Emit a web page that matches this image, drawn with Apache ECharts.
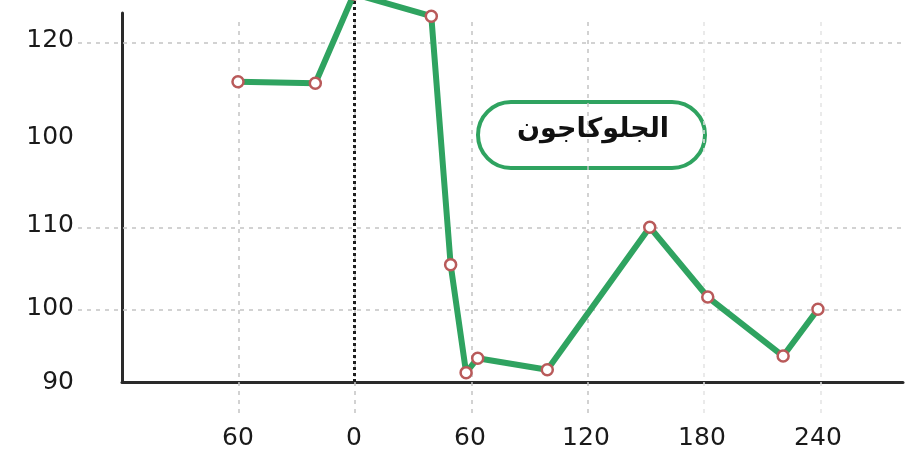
<!DOCTYPE html>
<html>
<head>
<meta charset="utf-8">
<script src="https://cdn.jsdelivr.net/npm/echarts@6/dist/echarts.min.js"></script>
<style>
html,body{margin:0;padding:0;background:#fff;}
#c{width:906px;height:457px;}
</style>
</head>
<body>
<div id="c"></div>
<script>
// ---- data (x in minutes, y in the chart's own vertical units) ----
const xValues = [-60, -20, 0, 40, 50, 58, 64, 100, 153, 183, 222, 240];
const yValues = [131.7, 131.5, 143.9, 140.8, 106.3, 91.3, 93.3, 91.7, 111.5, 101.8, 93.6, 100.1];
const xTickValues = [-60, 0, 60, 120, 180, 240];
const xTickLabels = ['60', '0', '60', '120', '180', '240'];
const yTickValues = [90, 100.2, 111.8, 123.9, 137.4];
const yTickLabels = ['90', '100', '110', '100', '120'];
const yGridValues = [100, 111.4, 137.1];
const annotationText = 'الجلوكاجون';

// ---- layout constants ----
const X_MIN = -120, X_MAX = 284;
const Y_MIN = 90;
const PX_X = 784 / (X_MAX - X_MIN);
const PX_Y = 7.2;

const green = '#2fa360';
const font = 'DejaVu Sans';

const chart = echarts.init(document.getElementById('c'), null, {renderer: 'canvas'});

const labelFor = (vals, labs) => (v) => {
  for (let i = 0; i < vals.length; i++) if (Math.abs(vals[i] - v) < 0.01) return labs[i];
  return '';
};

const gridLineData = [];
xTickValues.forEach((v, i) => {
  gridLineData.push({xAxis: v, lineStyle: {color: i >= 4 ? '#e4e4e4' : '#c4c4c4'}});
});
yGridValues.forEach(v => gridLineData.push({yAxis: v}));

chart.setOption({
  animation: false,
  backgroundColor: '#fff',
  grid: [
    {left: 122, right: 0, top: 0, bottom: 75},
    {left: 122, right: 0, top: 13, bottom: 75},
    {left: 78, right: 0, top: 22, bottom: 44}
  ],
  xAxis: [
    {
      type: 'value', gridIndex: 0, min: X_MIN, max: X_MAX, interval: 60, z: 3,
      axisLine: {onZero: false, lineStyle: {color: '#2a2a2a', width: 3}},
      axisTick: {show: false},
      splitLine: {show: false},
      axisLabel: {margin: 44, fontFamily: font, fontSize: 25, color: '#1a1a1a',
        formatter: labelFor(xTickValues, xTickLabels)}
    },
    {type: 'value', gridIndex: 1, min: X_MIN, max: X_MAX, show: false},
    {type: 'value', gridIndex: 2, min: X_MIN - 44 / PX_X, max: X_MAX, show: false}
  ],
  yAxis: [
    {type: 'value', gridIndex: 0, min: Y_MIN, max: Y_MIN + 382 / PX_Y, show: false},
    {
      type: 'value', gridIndex: 1, min: Y_MIN, max: Y_MIN + 369 / PX_Y, z: 3,
      axisLine: {show: true, onZero: false, lineStyle: {color: '#2a2a2a', width: 3}},
      axisTick: {show: false},
      splitLine: {show: false},
      axisLabel: {margin: 48, fontFamily: font, fontSize: 25, color: '#1a1a1a',
        customValues: yTickValues,
        formatter: labelFor(yTickValues, yTickLabels)}
    },
    {type: 'value', gridIndex: 2, min: Y_MIN - 31 / PX_Y, max: Y_MIN + 360 / PX_Y, show: false}
  ],
  series: [
    {
      type: 'line', xAxisIndex: 2, yAxisIndex: 2, data: [], z: 0, silent: true,
      markLine: {
        silent: true, symbol: 'none', label: {show: false},
        lineStyle: {color: '#c4c4c4', type: [4, 5], width: 1.5},
        data: gridLineData
      }
    },
    {
      type: 'line', xAxisIndex: 0, yAxisIndex: 0, clip: false, z: 5,
      data: xValues.map((x, i) => [x, yValues[i]]),
      symbol: 'circle', symbolSize: 11, showAllSymbol: true,
      lineStyle: {color: green, width: 6},
      itemStyle: {color: '#fff', borderColor: '#b95a5a', borderWidth: 2.5},
      markLine: {
        silent: true, symbol: 'none', label: {show: false},
        lineStyle: {color: '#1e1e1e', type: 'dotted', width: 3},
        data: [{xAxis: 0}]
      }
    }
  ],
  graphic: [
    {
      type: 'group', left: 476, top: 100, z: 10,
      children: [
        {type: 'rect', shape: {x: 0, y: 0, width: 227, height: 66, r: 33},
         style: {fill: '#fff', stroke: green, lineWidth: 4}},
        {type: 'text', x: 115, y: 28,
         style: {text: annotationText, font: 'bold 27px "DejaVu Sans"', fill: '#111',
                 align: 'center', verticalAlign: 'middle'}}
      ]
    }
  ]
});
</script>
</body>
</html>
